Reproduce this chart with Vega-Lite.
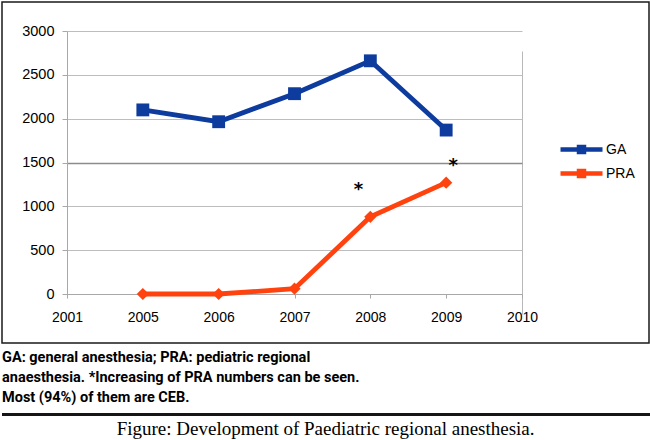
{
  "$schema": "https://vega.github.io/schema/vega-lite/v6.json",
  "background": "white",
  "padding": {"left": 1, "top": 1, "right": 1, "bottom": 1},
  "spacing": 5,
  "datasets": {
    "counts": [
      {"year": "2005", "series": "GA", "value": 2100},
      {"year": "2006", "series": "GA", "value": 1965},
      {"year": "2007", "series": "GA", "value": 2285},
      {"year": "2008", "series": "GA", "value": 2660},
      {"year": "2009", "series": "GA", "value": 1870},
      {"year": "2005", "series": "PRA", "value": 0},
      {"year": "2006", "series": "PRA", "value": 0},
      {"year": "2007", "series": "PRA", "value": 60},
      {"year": "2008", "series": "PRA", "value": 880},
      {"year": "2009", "series": "PRA", "value": 1270}
    ],
    "stars": [
      {"year": "2008", "value": 1190, "label": "*"},
      {"year": "2009", "value": 1455, "label": "*"}
    ]
  },
  "title": {
    "text": "Figure: Development of Paediatric regional anesthesia.",
    "orient": "bottom",
    "anchor": "middle",
    "font": "Liberation Serif",
    "fontSize": 19,
    "fontWeight": "normal",
    "color": "#000000",
    "offset": 4
  },
  "vconcat": [
    {
      "width": 647,
      "height": 341,
      "view": {"stroke": "#1a1a1a", "strokeWidth": 1.5, "fill": "white"},
      "layer": [
        {
          "data": {"name": "counts"},
          "mark": {"type": "line", "strokeWidth": 4.8},
          "encoding": {
            "x": {
              "field": "year", "type": "ordinal",
              "scale": {"type": "point", "domain": ["2001", "2005", "2006", "2007", "2008", "2009", "2010"], "range": [65, 520], "padding": 0},
              "axis": {
                "title": null, "offset": -49, "labelAngle": 0,
                "grid": true, "gridColor": "#b8b8b8",
                "gridOpacity": {"condition": {"test": "datum.value === '2010'", "value": 1}, "value": 0},
                "domainColor": "#a8a8a8", "tickColor": "#a8a8a8", "tickSize": 4,
                "labelPadding": 12, "labelFont": "Liberation Sans", "labelFontSize": 14, "labelColor": "#000000"
              }
            },
            "y": {
              "field": "value", "type": "quantitative",
              "scale": {"domain": [0, 3000], "range": [292, 29], "nice": false},
              "axis": {
                "title": null, "offset": -65, "values": [0, 500, 1000, 1500, 2000, 2500, 3000], "format": "d",
                "grid": true,
                "gridColor": {"condition": {"test": "datum.value === 1500", "value": "#8c8c8c"}, "value": "#bdbdbd"},
                "gridWidth": {"condition": {"test": "datum.value === 1500", "value": 1.6}, "value": 1},
                "domainColor": "#a8a8a8", "tickColor": "#a8a8a8", "tickSize": 5,
                "labelPadding": 8, "labelFont": "Liberation Sans", "labelFontSize": 14.5, "labelColor": "#000000"
              }
            },
            "color": {
              "field": "series", "type": "nominal",
              "scale": {"domain": ["GA", "PRA"], "range": ["#0d3b9e", "#ff420e"]},
              "legend": {
                "title": null, "orient": "none", "legendX": 572, "legendY": 140,
                "symbolType": "M-4.2,0H4.2M-0.5,-0.5H0.5V0.5H-0.5Z",
                "symbolSize": 100, "symbolStrokeWidth": 4.5, "rowPadding": 1, "labelOffset": 17,
                "labelFont": "Liberation Sans", "labelFontSize": 14, "labelColor": "#000000"
              }
            }
          }
        },
        {
          "data": {"name": "counts"},
          "transform": [{"filter": "datum.series === 'GA'"}],
          "mark": {"type": "point", "shape": "square", "filled": true, "opacity": 1, "size": 165},
          "encoding": {
            "x": {"field": "year", "type": "ordinal"},
            "y": {"field": "value", "type": "quantitative"},
            "color": {"field": "series", "type": "nominal", "legend": null}
          }
        },
        {
          "data": {"name": "counts"},
          "transform": [{"filter": "datum.series === 'PRA'"}],
          "mark": {"type": "point", "shape": "diamond", "filled": true, "opacity": 1, "size": 150},
          "encoding": {
            "x": {"field": "year", "type": "ordinal"},
            "y": {"field": "value", "type": "quantitative"},
            "color": {"field": "series", "type": "nominal", "legend": null}
          }
        },
        {
          "data": {"name": "stars"},
          "transform": [{"filter": "datum.year === '2008'"}],
          "mark": {"type": "text", "font": "DejaVu Sans", "fontSize": 18, "fontWeight": "bold", "baseline": "middle", "dx": -12, "color": "#000000"},
          "encoding": {
            "x": {"field": "year", "type": "ordinal"},
            "y": {"field": "value", "type": "quantitative"},
            "text": {"field": "label"}
          }
        },
        {
          "data": {"name": "stars"},
          "transform": [{"filter": "datum.year === '2009'"}],
          "mark": {"type": "text", "font": "DejaVu Sans", "fontSize": 18, "fontWeight": "bold", "baseline": "middle", "dx": 7, "color": "#000000"},
          "encoding": {
            "x": {"field": "year", "type": "ordinal"},
            "y": {"field": "value", "type": "quantitative"},
            "text": {"field": "label"}
          }
        }
      ]
    },
    {
      "width": 648,
      "height": 3,
      "view": {"fill": "#151515", "stroke": null},
      "title": {
        "text": ["GA: general anesthesia; PRA: pediatric regional", "anaesthesia. *Increasing of PRA numbers can be seen.", "Most (94%) of them are CEB."],
        "orient": "top",
        "anchor": "start",
        "font": "Roboto",
        "fontSize": 14.5,
        "fontWeight": "bold",
        "lineHeight": 20,
        "color": "#000000",
        "offset": 8
      },
      "data": {"values": []},
      "mark": {"type": "rule"},
      "encoding": {}
    }
  ]
}
